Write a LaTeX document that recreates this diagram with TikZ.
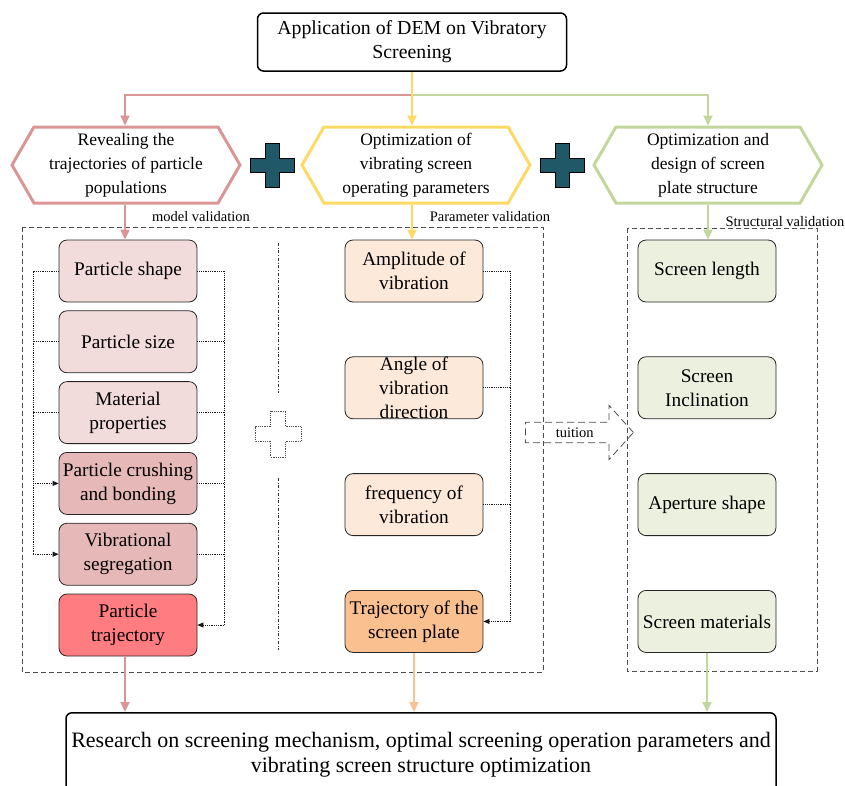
\documentclass[tikz,border=0pt]{standalone}
\usepackage{fontspec}
\setmainfont{Liberation Serif}
\usetikzlibrary{positioning, shapes.symbols, shapes.arrows, arrows.meta}

\definecolor{pinkline}{HTML}{D99694}
\definecolor{yellowline}{HTML}{FFD966}
\definecolor{greenline}{HTML}{C3D69B}
\definecolor{peachline}{HTML}{FAC090}
\definecolor{plusteal}{HTML}{215868}
\definecolor{pinkfill}{HTML}{F2DCDB}
\definecolor{rosefill}{HTML}{E6B9B8}
\definecolor{redfill}{HTML}{FF7C80}
\definecolor{peachfill}{HTML}{FDE9D9}
\definecolor{orangefill}{HTML}{FAC090}
\definecolor{greenfill}{HTML}{EBF1DE}

\tikzset{
    pics/plusmark/.style={code={
        \draw[pic actions] (-7,-22) -- (7,-22) -- (7,-7) -- (22,-7) -- (22,7) -- (7,7)
            -- (7,22) -- (-7,22) -- (-7,7) -- (-22,7) -- (-22,-7) -- (-7,-7) -- cycle;
    }}
}

\begin{document}
\begin{tikzpicture}[
    x=1pt, y=-1pt,
    every node/.style={font=\fontsize{19.3}{24}\selectfont},
    topbox/.style={draw, rounded corners=6pt, line width=1.5pt, minimum width=309pt,
        minimum height=58pt, align=center, font=\fontsize{19.8}{24}\selectfont},
    hexa/.style={signal, signal to=east and west, signal pointer angle=120,
        line width=3pt, minimum width=228pt, minimum height=76pt, align=center,
        font=\fontsize{17.5}{24}\selectfont},
    colbox/.style={draw=black!85, rounded corners=8pt, line width=0.8pt,
        minimum width=138pt, minimum height=62pt, align=center,
        inner xsep=1pt, inner ysep=3pt},
    frame/.style={draw=black!70, dash pattern=on 5pt off 3pt, line width=0.8pt},
    tag/.style={font=\fontsize{14.5}{16}\selectfont, inner sep=1pt},
    feed/.style={line width=2pt, -{Triangle[length=10pt, width=9pt]}},
    link/.style={black!90, densely dotted, line width=0.8pt},
    linkarrow/.style={link, -{Triangle[length=6pt, width=5pt]}},
    tuitionarrow/.style={single arrow, draw=black!70, dash pattern=on 7pt off 4pt,
        line width=0.8pt, minimum height=108pt, minimum width=54pt,
        single arrow head extend=13.5pt, single arrow tip angle=96, inner ysep=3pt,
        font=\fontsize{14.5}{16}\selectfont}
]
\useasboundingbox (0,0) rectangle (845,785);

% Top and the three directions
\node[topbox] (app) at (412,42) {Application of DEM on Vibratory\\Screening};
\node[hexa, draw=pinkline] (reveal) at (126,165) {Revealing the\\trajectories of particle\\populations};
\node[hexa, draw=yellowline] (optim) at (416,165) {Optimization of\\vibrating screen\\operating parameters};
\node[hexa, draw=greenline] (design) at (708,165) {Optimization and\\design of screen\\plate structure};

\pic[fill=plusteal, draw=black, line width=0.8pt] at (272,165) {plusmark};
\pic[fill=plusteal, draw=black, line width=0.8pt] at (562,165) {plusmark};

% Split from the top box
\coordinate (split) at (412,95);
\draw[feed, pinkline] (split) -| (reveal.north -| 125,0);
\draw[feed, greenline] (split) -| (design.north);
\draw[feed, yellowline] (app.south) -- (app.south |- optim.north);

% Dashed frames
\draw[frame] (22,227) rectangle (543,672);
\draw[frame] (627,228) rectangle (817,671);
\node[tag] (modelval) at (201,217) {model validation};
\node[tag] (paramval) at (490,217) {Parameter validation};
\node[tag] (structval) at (785,222) {Structural validation};

% Particle column
\node[colbox, fill=pinkfill] (shape) at (128,271) {Particle shape};
\node[colbox, fill=pinkfill, below=8pt of shape] (size) {Particle size};
\node[colbox, fill=pinkfill, below=8pt of size] (matl) {Material\\properties};
\node[colbox, fill=rosefill, below=8pt of matl] (crush) {Particle crushing\\and bonding};
\node[colbox, fill=rosefill, below=8pt of crush] (segr) {Vibrational\\segregation};
\node[colbox, fill=redfill, below=8pt of segr] (traj) {Particle\\trajectory};

% Parameter column
\node[colbox, fill=peachfill] (amp) at (414,271) {Amplitude of\\vibration};
\node[colbox, fill=peachfill, below=54pt of amp, inner ysep=-3pt] (angle) {Angle of\\vibration\\direction};
\node[colbox, fill=peachfill, below=54pt of angle] (freq) {frequency of\\vibration};
\node[colbox, fill=orangefill, below=54pt of freq] (plate) {Trajectory of the\\screen plate};

% Structure column
\node[colbox, fill=greenfill] (length) at (707,271) {Screen length};
\node[colbox, fill=greenfill, below=54pt of length] (incl) {Screen\\Inclination};
\node[colbox, fill=greenfill, below=54pt of incl] (aper) {Aperture shape};
\node[colbox, fill=greenfill, below=54pt of aper] (mater) {Screen materials};

% Into the columns
\draw[feed, pinkline] (reveal.south -| 125,0) -- (shape.north -| 125,0);
\draw[feed, yellowline] (app.south |- optim.south) -- (app.south |- amp.north);
\draw[feed, greenline] (design.south) -- (design.south |- length.north);

% Dotted links, particle column
\coordinate (lbus) at (33,0);
\coordinate (rbus) at (224,0);
\draw[link] (shape.west) -- (shape.west -| lbus) -- (segr.west -| lbus);
\draw[link] (size.west) -- (size.west -| lbus);
\draw[link] (matl.west) -- (matl.west -| lbus);
\draw[linkarrow] (crush.west -| lbus) -- (crush.west);
\draw[linkarrow] (segr.west -| lbus) -- (segr.west);
\draw[link] (shape.east) -- (shape.east -| rbus) -- (traj.east -| rbus);
\draw[link] (size.east) -- (size.east -| rbus);
\draw[link] (matl.east) -- (matl.east -| rbus);
\draw[link] (crush.east) -- (crush.east -| rbus);
\draw[link] (segr.east) -- (segr.east -| rbus);
\draw[linkarrow] (traj.east -| rbus) -- (traj.east);

% Dotted links, parameter column
\coordinate (pbus) at (510,0);
\draw[link] (amp.east) -- (amp.east -| pbus) -- (plate.east -| pbus);
\draw[link] (angle.east) -- (angle.east -| pbus);
\draw[link] (freq.east) -- (freq.east -| pbus);
\draw[linkarrow] (plate.east -| pbus) -- (plate.east);

% Separator and dotted plus
\draw[black!80, dash dot, line width=0.6pt] (278,243) -- (278,393);
\draw[black!80, dash dot, line width=0.6pt] (278,478) -- (278,650);
\pic[draw=black!70, densely dotted, line width=0.8pt, scale=1.05] at (278,434) {plusmark};

% Tuition
\node[tuitionarrow, anchor=tail] (tuit) at (525,432.5) {tuition};

% Result
\node[topbox, minimum width=710pt, minimum height=84pt, anchor=north,
    font=\fontsize{22}{25}\selectfont] (research) at (421,712)
    {Research on screening mechanism, optimal screening operation parameters and\\vibrating screen structure optimization};
\draw[feed, pinkline] (traj.south -| 125,0) -- (research.north -| 125,0);
\draw[feed, peachline] (plate.south) -- (plate.south |- research.north);
\draw[feed, greenline] (mater.south) -- (mater.south |- research.north);

\end{tikzpicture}
\end{document}
